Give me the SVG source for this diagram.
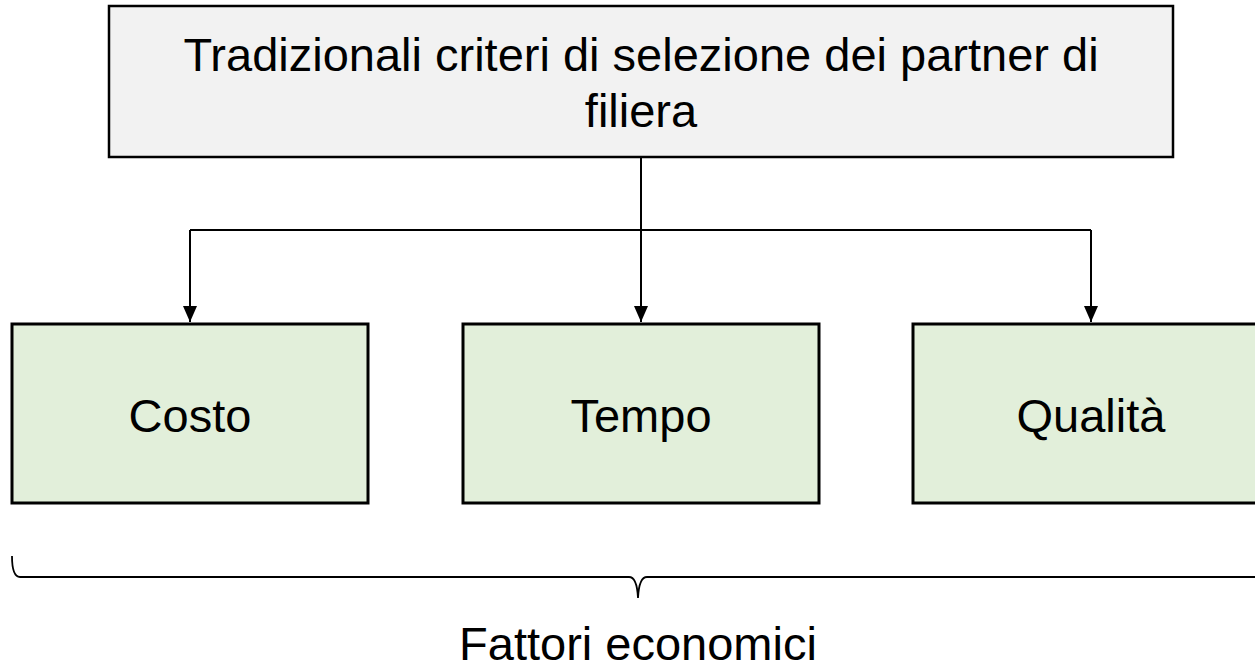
<svg xmlns="http://www.w3.org/2000/svg" width="1255" height="672" viewBox="0 0 1255 672">
<style>
text{font-family:"Liberation Sans",Arial,sans-serif;font-size:47px;fill:#000;text-anchor:middle}
.top{fill:#f2f2f2;stroke:#000;stroke-width:2.5}
.leaf{fill:#e2efda;stroke:#000;stroke-width:3}
.conn{fill:none;stroke:#000;stroke-width:2}
.brace{fill:none;stroke:#000;stroke-width:1.8}
</style>
<defs>
<marker id="arr" markerWidth="14" markerHeight="16" refX="7" refY="16" orient="0" markerUnits="userSpaceOnUse" viewBox="0 0 14 16">
<path d="M0,0 L14,0 L7,16 Z" fill="#000"/>
</marker>
</defs>
<rect width="1255" height="672" fill="#fff"/>
<g id="connectors">
<path class="conn" d="M641,157 L641,230"/>
<path class="conn" d="M190,230 L1091,230"/>
<path class="conn" d="M190,230 L190,322" marker-end="url(#arr)"/>
<path class="conn" d="M641,230 L641,322" marker-end="url(#arr)"/>
<path class="conn" d="M1091,230 L1091,322" marker-end="url(#arr)"/>
</g>
<g id="node-top">
<rect class="top" x="109" y="6" width="1064" height="151"/>
<text x="641" y="71">Tradizionali criteri di selezione dei partner di</text>
<text x="641" y="127">filiera</text>
</g>
<g id="node-costo">
<rect class="leaf" x="12" y="324" width="356" height="179"/>
<text x="190" y="432">Costo</text>
</g>
<g id="node-tempo">
<rect class="leaf" x="463" y="324" width="356" height="179"/>
<text x="641" y="432">Tempo</text>
</g>
<g id="node-qualita">
<rect class="leaf" x="913" y="324" width="356" height="179"/>
<text x="1091" y="432">Qualità</text>
</g>
<g id="brace">
<path class="brace" d="M12,556 Q12,577 20,577 L629,577 Q637,577 638,598 Q639,577 647,577 L1260,577"/>
<text x="638" y="660">Fattori economici</text>
</g>
</svg>
